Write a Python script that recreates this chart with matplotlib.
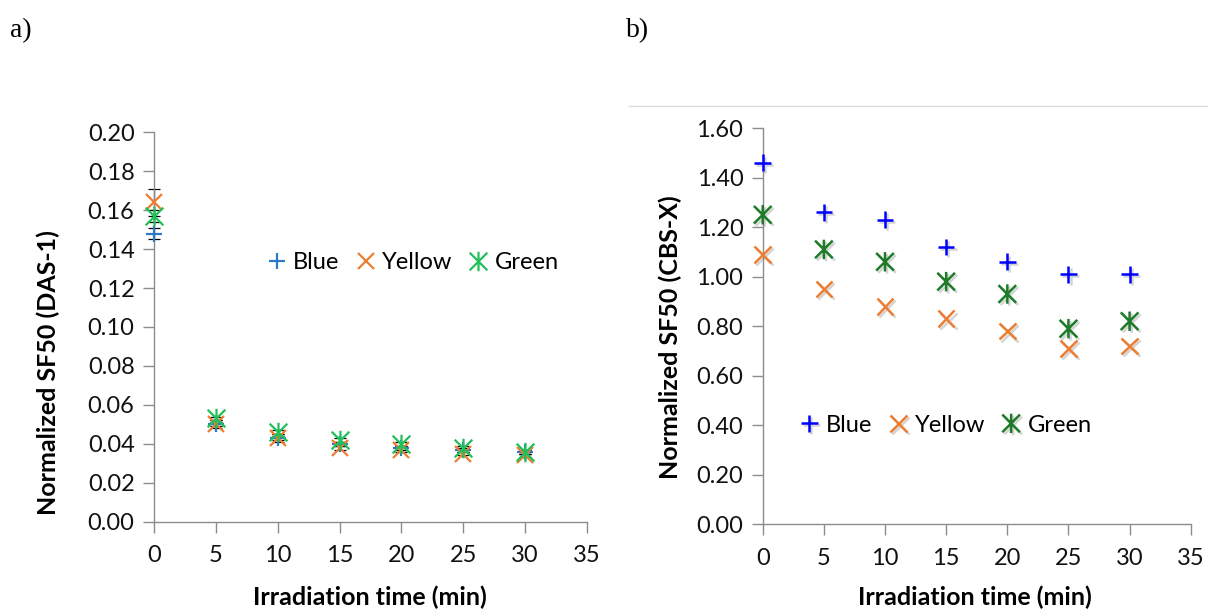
import matplotlib
matplotlib.use("Agg")
import matplotlib.pyplot as plt
import matplotlib.patheffects as pe
from matplotlib.path import Path
from matplotlib.lines import Line2D

plt.rcParams['font.family'] = ['Lato', 'DejaVu Sans']

# data
time_min = [0, 5, 10, 15, 20, 25, 30]
series_names = ['Blue', 'Yellow', 'Green']

das_blue = [0.148, 0.050, 0.043, 0.040, 0.038, 0.037, 0.036]
das_yellow = [0.164, 0.050, 0.043, 0.038, 0.037, 0.035, 0.034]
das_green = [0.157, 0.053, 0.046, 0.042, 0.040, 0.038, 0.036]
das_blue_err = [0.003, 0.002, 0.002, 0.001, 0.001, 0.001, 0.001]
das_yellow_err = [0.007, 0.001, 0.001, 0.001, 0.001, 0.001, 0.001]
das_green_err = [0.003, 0.001, 0.001, 0.001, 0.001, 0.001, 0.001]

cbs_blue = [1.46, 1.26, 1.23, 1.12, 1.06, 1.01, 1.01]
cbs_yellow = [1.09, 0.95, 0.88, 0.83, 0.78, 0.71, 0.72]
cbs_green = [1.25, 1.11, 1.06, 0.98, 0.93, 0.79, 0.82]

x_ticks = [0, 5, 10, 15, 20, 25, 30, 35]
das_ticks = [0.00, 0.02, 0.04, 0.06, 0.08, 0.10, 0.12, 0.14, 0.16, 0.18, 0.20]
cbs_ticks = [0.00, 0.20, 0.40, 0.60, 0.80, 1.00, 1.20, 1.40, 1.60]

# Excel-like asterisk: vertical bar plus an X
ASTER = Path([(0, -1.1), (0, 1.1), (-1, -1), (1, 1), (-1, 1), (1, -1)],
             [Path.MOVETO, Path.LINETO, Path.MOVETO, Path.LINETO, Path.MOVETO, Path.LINETO])
MARKERS = ['+', 'x', ASTER]
MSIZE = [12, 12, 14]
AXIS_GREY = '#8c8c8c'
FS = 17
FS_LAB = 18


def style_axes(ax, yticks, fmt):
    for s in ['top', 'right']:
        ax.spines[s].set_visible(False)
    for s in ['left', 'bottom']:
        ax.spines[s].set_color(AXIS_GREY)
        ax.spines[s].set_linewidth(1.0)
    ax.set_xlim(0, 35)
    ax.set_ylim(yticks[0], yticks[-1])
    ax.set_xticks(x_ticks)
    ax.set_yticks(yticks)
    ax.set_yticklabels([fmt.format(v) for v in yticks])
    ax.tick_params(direction='out', length=8, width=1, color=AXIS_GREY,
                   labelsize=FS, labelcolor='#111111')
    ax.tick_params(axis='x', pad=9)
    ax.tick_params(axis='y', pad=6)
    ax.set_xlabel('Irradiation time (min)', fontsize=FS_LAB, fontweight='bold')


fig = plt.figure(figsize=(12.08, 6.10), dpi=100)
ax1 = fig.add_axes([0.1275, 0.1448, 0.3584, 0.6383])
ax2 = fig.add_axes([0.6314, 0.1405, 0.3543, 0.6495])

leg_kw = dict(loc='center', bbox_transform=fig.transFigure, ncol=3, frameon=False,
              fontsize=FS, handlelength=0.8, handletextpad=0.3, columnspacing=0.7)

# panel a
cols_a = ['#2e78c8', '#ed7d31', '#22c05a']
vals_a = [das_blue, das_yellow, das_green]
errs_a = [das_blue_err, das_yellow_err, das_green_err]
for name, vals, errs, mk, ms, c in zip(series_names, vals_a, errs_a, MARKERS, MSIZE, cols_a):
    ax1.errorbar(time_min, vals, yerr=errs, fmt='none', ecolor='black',
                 elinewidth=0.9, capsize=4, capthick=0.9, zorder=2, clip_on=False)
    ax1.plot(time_min, vals, linestyle='none', marker=mk, markersize=ms,
             markeredgewidth=1.6, color=c, label=name, zorder=3, clip_on=False)
style_axes(ax1, das_ticks, '{:.2f}')
ax1.set_ylabel('Normalized SF50 (DAS-1)', fontsize=FS_LAB, fontweight='bold')
ax1.yaxis.set_label_coords(-0.217, 0.384)
ax1.xaxis.set_label_coords(0.499, -0.163)
ax1.legend(bbox_to_anchor=(0.342, 0.569), **leg_kw)

# panel b
cols_b = ['#0000ff', '#ed7d31', '#1e7b28']
vals_b = [cbs_blue, cbs_yellow, cbs_green]
shadow = [pe.SimpleLineShadow(offset=(1.5, -1.5), alpha=0.25, shadow_color='#555555'), pe.Normal()]
for name, vals, mk, ms, c in zip(series_names, vals_b, MARKERS, MSIZE, cols_b):
    ax2.plot(time_min, vals, linestyle='none', marker=mk, markersize=ms,
             markeredgewidth=1.8, color=c, label=name, zorder=3, clip_on=False,
             path_effects=shadow)
style_axes(ax2, cbs_ticks, '{:.2f}')
ax2.set_ylabel('Normalized SF50 (CBS-X)', fontsize=FS_LAB, fontweight='bold')
ax2.yaxis.set_label_coords(-0.189, 0.473)
ax2.xaxis.set_label_coords(0.496, -0.155)
ax2.legend(bbox_to_anchor=(0.783, 0.303), **leg_kw)

# panel letters and the thin border line of panel b
fig.text(0.008, 0.95, 'a)', fontsize=20, family='Liberation Serif', va='center')
fig.text(0.518, 0.95, 'b)', fontsize=20, family='Liberation Serif', va='center')
fig.add_artist(Line2D([0.5207, 1.0], [1 - 105.7 / 610, 1 - 105.7 / 610],
                      color='#dcdcdc', linewidth=1.0, transform=fig.transFigure))

fig.savefig('out.png', dpi=100)
